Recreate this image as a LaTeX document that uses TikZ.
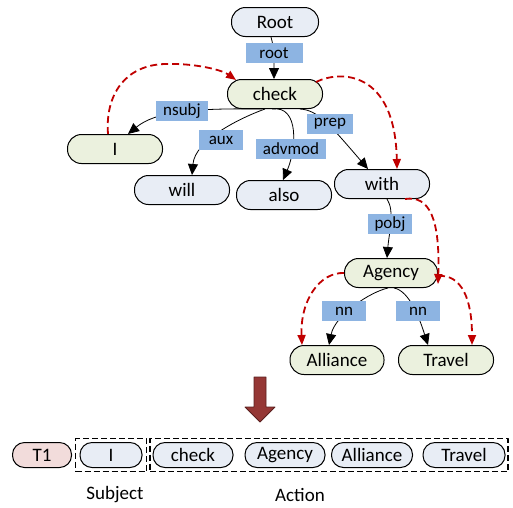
\documentclass[tikz,border=0pt]{standalone}
\usepackage{fontspec}
\setmainfont{Carlito}
\usetikzlibrary{arrows.meta,fit}
\definecolor{tokblue}{HTML}{E8EDF5}
\definecolor{tokgreen}{HTML}{EBF1DE}
\definecolor{tokpink}{HTML}{F2DCDB}
\definecolor{lblblue}{HTML}{8DB4E2}
\definecolor{relred}{HTML}{C00000}
\definecolor{bigred}{HTML}{953735}
\definecolor{bigdark}{HTML}{5A1F1E}
\begin{document}
\begin{tikzpicture}[x=1pt, y=-1pt, line join=round,
	tok/.style={draw, line width=1pt, rounded corners=14pt, minimum height=29pt, minimum width=95pt,
		inner sep=0pt, fill=tokblue, font=\fontsize{19}{22}\selectfont},
	key/.style={tok, fill=tokgreen},
	seq/.style={tok, rounded corners=12pt, minimum height=25pt},
	lbl/.style={fill=lblblue, inner xsep=7pt, inner ysep=0pt, minimum height=20pt, minimum width=44pt,
		font=\fontsize{17}{19}\selectfont},
	dep/.style={-{Triangle[length=11pt,width=10pt]}, line width=0.8pt},
	rel/.style={-{Triangle[length=10pt,width=8pt]}, draw=relred, line width=1.8pt, dash pattern=on 7pt off 4pt},
	grp/.style={draw, line width=1.8pt, dash pattern=on 6pt off 3pt, inner xsep=2.5pt, inner ysep=3.5pt}]
	\useasboundingbox (0,0) rectangle (513,507);
	% parse tree
	\node[tok, minimum width=87pt] (root) at (275,22) {Root};
	\node[key] (check) at (275,94) {check};
	\node[key] (i) at (115,149) {I};
	\node[tok] (will) at (182,190) {will};
	\node[tok] (also) at (284,195) {also};
	\node[tok] (with) at (382,184) {with};
	\node[key, minimum width=93pt] (agency) at (391,273) {Agency};
	\node[key, minimum width=94pt] (alliance) at (337,360) {Alliance};
	\node[key] (travel) at (446,360) {Travel};
	% dependency edges
	\draw[dep] ([xshift=-4pt]root.south) .. controls +(3,10) and +(0,-20) .. ([xshift=-1pt]check.north);
	\draw[dep] ([xshift=-13pt]check.south) .. controls (190,108) and (155,112) .. ([xshift=13pt]i.north);
	\draw[dep] ([xshift=-10pt]check.south) .. controls (240,118) and (195,140) .. ([xshift=10pt]will.north);
	\draw[dep] ([xshift=-3pt]check.south) .. controls (300,105) and (296,150) .. ([xshift=-1pt]also.north);
	\draw[dep] ([xshift=25pt]check.south) .. controls (318,110) and (330,125) .. ([xshift=-14pt]with.north);
	\draw[dep] ([xshift=5pt]with.south) .. controls +(8,12) and +(2,-25) .. ([xshift=-4pt]agency.north);
	\draw[dep] ([xshift=-3pt]agency.south) .. controls (370,292) and (335,315) .. ([xshift=-8pt]alliance.north);
	\draw[dep] ([xshift=3pt]agency.south) .. controls (410,291) and (420,320) .. ([xshift=-18pt]travel.north);
	% relation arcs
	\draw[rel] ([xshift=-7pt]i.north) .. controls (105,95) and (125,65) .. (165,64)
		.. controls (195,63) and (222,70) .. ([xshift=9pt,yshift=-1pt]check.north west);
	\draw[rel] ([xshift=-7pt,yshift=-3pt]check.north east) .. controls (340,70) and (395,70) .. ([xshift=15pt]with.north);
	\draw[rel] ([xshift=23pt]with.south) .. controls (430,195) and (440,220) .. ([yshift=-11pt]agency.east);
	\draw[rel] (agency.west) .. controls (320,272) and (300,300) .. ([xshift=-35pt]alliance.north);
	\draw[rel] ([yshift=-3pt]agency.east) .. controls (462,274) and (472,300) .. ([xshift=26pt]travel.north);
	% edge labels
	\node[lbl, minimum width=57pt] (lroot) at (274,53) {root};
	\node[lbl] (lnsubj) at (182,111) {nsubj};
	\node[lbl] (laux) at (221,140) {aux};
	\node[lbl] (ladvmod) at (291,149) {advmod};
	\node[lbl] (lprep) at (330,124) {prep};
	\node[lbl] (lpobj) at (390,224) {pobj};
	\node[lbl] (lnnl) at (344,311) {nn};
	\node[lbl] (lnnr) at (418,311) {nn};
	% big arrow
	\draw[fill=bigred, draw=bigdark, line width=0.8pt] (254,377) -- (266,377) -- (266,407) -- (275,407)
		-- (260,422) -- (245,407) -- (254,407) -- cycle;
	% sequence
	\node[seq, fill=tokpink, minimum width=59pt] (t1) at (42,455) {T1};
	\node[seq, minimum width=62pt] (si) at (111,455) {I};
	\node[seq, minimum width=80pt] (scheck) at (193,455) {check};
	\node[seq, minimum width=80pt] (sagency) at (285,455) {Agency};
	\node[seq, minimum width=81pt] (salliance) at (372,455) {Alliance};
	\node[seq, minimum width=82pt] (stravel) at (464,455) {Travel};
	\node[grp, inner xsep=4pt, fit=(si)] (subj) {};
	\node[grp, fit=(scheck)(stravel)] (act) {};
	\node[font=\fontsize{19}{22}\selectfont] (lsubj) at (115,495) {Subject};
	\node[font=\fontsize{19}{22}\selectfont] (lact) at (300,495) {Action};
\end{tikzpicture}
\end{document}
